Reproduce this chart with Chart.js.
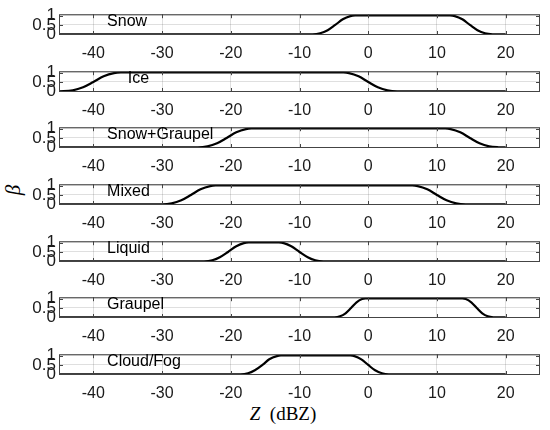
<!DOCTYPE html>
<html>
<head>
<meta charset="utf-8">
<script src="https://cdn.jsdelivr.net/npm/chart.js@4/dist/chart.umd.min.js"></script>
<style>
  html, body { margin: 0; padding: 0; background: #fff; }
  body { width: 550px; height: 430px; position: relative; overflow: hidden; }
  canvas.panel { position: absolute; left: 0; }
  #ylab {
    position: absolute; left: 13px; top: 190px;
    font: italic 21px "Liberation Serif", "Times New Roman", serif;
    transform: translate(-50%, -50%) rotate(-90deg);
  }
  #xlab {
    position: absolute; left: 283px; top: 414px; white-space: pre;
    font: 19px "Liberation Serif", "Times New Roman", serif;
    transform: translate(-50%, -50%);
  }
</style>
</head>
<body>
<div id="ylab">β</div>
<div id="xlab"><i>Z</i>  (dBZ)</div>

<script>
// class names, one panel per class (top to bottom)
const classNames = ['Snow', 'Ice', 'Snow+Graupel', 'Mixed', 'Liquid', 'Graupel', 'Cloud/Fog'];

// axis ticks
const zTicks = [-40, -30, -20, -10, 0, 10, 20];
const betaTicks = [0, 0.5, 1];
const betaTickLabels = ['0', '0.5', '1'];

// membership curves: Z (dBZ) and beta
const snowZ = [-45, -8.1, -7.0, -5.9, -4.8, -3.7, -2.6, -1.9, 11.9, 12.6, 13.7, 14.8, 15.9, 17.0, 18.1, 20];
const snowBeta = [0, 0.01, 0.06, 0.22, 0.5, 0.8, 0.97, 1, 1, 0.97, 0.8, 0.5, 0.22, 0.06, 0.01, 0];

const iceZ = [-45, -43.0, -41.5, -40.0, -38.5, -37.0, -36.0, -3.6, -2.8, -1.4, 0, 1.4, 2.8, 4.2, 20];
const iceBeta = [0.01, 0.06, 0.22, 0.5, 0.8, 0.97, 1, 1, 0.97, 0.8, 0.5, 0.22, 0.06, 0.01, 0];

const snowGraupelZ = [-45, -24.8, -23.4, -22.0, -20.6, -19.2, -17.8, -17.0, 11.2, 12.0, 13.4, 14.8, 16.2, 17.6, 19.0, 20];
const snowGraupelBeta = [0, 0.01, 0.06, 0.22, 0.5, 0.8, 0.97, 1, 1, 0.97, 0.8, 0.5, 0.22, 0.06, 0.01, 0];

const mixedZ = [-45, -30.0, -28.6, -27.2, -25.8, -24.4, -23.0, -22.2, 6.4, 7.2, 8.6, 10.0, 11.4, 12.8, 14.2, 20];
const mixedBeta = [0, 0.01, 0.06, 0.22, 0.5, 0.8, 0.97, 1, 1, 0.97, 0.8, 0.5, 0.22, 0.06, 0.01, 0];

const liquidZ = [-45, -23.9, -22.7, -21.6, -20.4, -19.2, -18.1, -17.4, -13.0, -12.3, -11.2, -10.0, -8.8, -7.7, -6.5, 20];
const liquidBeta = [0, 0.01, 0.06, 0.22, 0.5, 0.8, 0.97, 1, 1, 0.97, 0.8, 0.5, 0.22, 0.06, 0.01, 0];

const graupelZ = [-45, -4.9, -4.1, -3.3, -2.5, -1.7, -0.9, -0.4, 13.7, 14.2, 15.0, 15.8, 16.6, 17.4, 18.2, 20];
const graupelBeta = [0, 0.01, 0.06, 0.22, 0.5, 0.8, 0.97, 1, 1, 0.97, 0.8, 0.5, 0.22, 0.06, 0.01, 0];

const cloudFogZ = [-45, -18.6, -17.5, -16.5, -15.4, -14.4, -13.3, -12.7, -2.6, -2.0, -1.0, 0, 1.0, 2.0, 3.0, 20];
const cloudFogBeta = [0, 0.01, 0.06, 0.22, 0.5, 0.8, 0.97, 1, 1, 0.97, 0.8, 0.5, 0.22, 0.06, 0.01, 0];

const curves = [
  [snowZ, snowBeta],
  [iceZ, iceBeta],
  [snowGraupelZ, snowGraupelBeta],
  [mixedZ, mixedBeta],
  [liquidZ, liquidBeta],
  [graupelZ, graupelBeta],
  [cloudFogZ, cloudFogBeta]
];

// where the class name sits inside each panel (Z of its left edge)
const nameAt = [-38, -35, -38, -38, -38, -38, -38];

Chart.defaults.font.family = '"Liberation Sans", Arial, sans-serif';
Chart.defaults.font.size = 16;
Chart.defaults.color = '#1a1a1a';

// MATLAB-like box, inward ticks and class name
const framePlugin = {
  id: 'frame',
  afterDraw(chart, args, opts) {
    const { ctx, chartArea: a } = chart;
    const x = chart.scales.x, y = chart.scales.y;
    ctx.save();
    ctx.strokeStyle = '#444';
    ctx.lineWidth = 1;
    ctx.strokeRect(a.left + 0.5, a.top + 0.5, a.width - 1, a.height - 1);
    ctx.beginPath();
    zTicks.forEach(v => {
      const px = Math.round(x.getPixelForValue(v)) + 0.5;
      ctx.moveTo(px, a.bottom); ctx.lineTo(px, a.bottom - 4);
      ctx.moveTo(px, a.top); ctx.lineTo(px, a.top + 4);
    });
    betaTicks.forEach(v => {
      const py = Math.round(y.getPixelForValue(v)) + 0.5;
      ctx.moveTo(a.left, py); ctx.lineTo(a.left + 4, py);
      ctx.moveTo(a.right, py); ctx.lineTo(a.right - 4, py);
    });
    ctx.stroke();

    ctx.fillStyle = '#000';
    ctx.font = '16px "Liberation Sans", Arial, sans-serif';
    ctx.textBaseline = 'middle';
    ctx.fillText(opts.name, x.getPixelForValue(opts.at), y.getPixelForValue(0.68));
    ctx.restore();
  }
};

const panelTop0 = 13;
const panelStep = 56.67;
const padTop = 12;

classNames.forEach((name, i) => {
  const canvas = document.createElement('canvas');
  canvas.className = 'panel';
  canvas.width = 550;
  canvas.height = 64;
  canvas.style.top = Math.round(panelTop0 + i * panelStep - padTop) + 'px';
  document.body.appendChild(canvas);

  const [zs, bs] = curves[i];

  new Chart(canvas.getContext('2d'), {
    type: 'line',
    data: {
      datasets: [{
        data: zs.map((z, k) => ({ x: z, y: bs[k] })),
        borderColor: '#000',
        borderWidth: 2.2,
        pointRadius: 0,
        cubicInterpolationMode: 'monotone',
        fill: false
      }]
    },
    options: {
      responsive: false,
      animation: false,
      layout: { padding: { top: padTop, right: 10, left: 0, bottom: 0 } },
      plugins: {
        legend: { display: false },
        tooltip: { enabled: false },
        frame: { name: name, at: nameAt[i] }
      },
      scales: {
        x: {
          type: 'linear',
          min: -45,
          max: 25,
          afterBuildTicks: s => { s.ticks = zTicks.map(v => ({ value: v })); },
          afterFit: s => { s.height = 30; },
          grid: { color: 'rgba(38,38,38,0.15)', drawTicks: false },
          border: { display: false },
          ticks: { autoSkip: false, maxRotation: 0, padding: 9 }
        },
        y: {
          min: -0.03,
          max: 1.07,
          afterBuildTicks: s => { s.ticks = betaTicks.map(v => ({ value: v })); },
          afterFit: s => { s.width = 59; },
          grid: { color: 'rgba(38,38,38,0.15)', drawTicks: false },
          border: { display: false },
          ticks: {
            autoSkip: false,
            padding: 3,
            font: { size: 17 },
            callback: (v) => betaTickLabels[betaTicks.indexOf(v)]
          }
        }
      }
    },
    plugins: [framePlugin]
  });
});
</script>
</body>
</html>
